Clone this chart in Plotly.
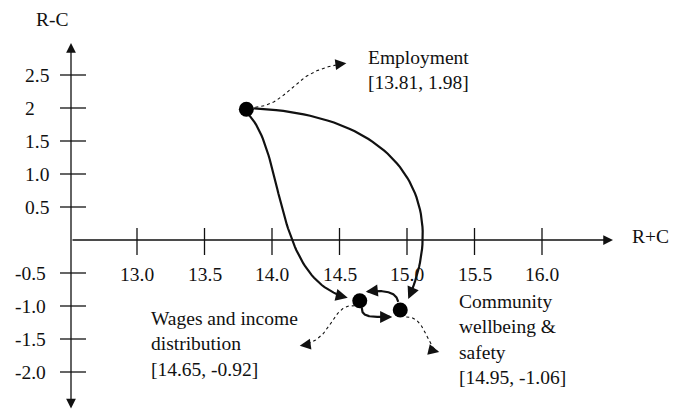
import numpy as np
import plotly.graph_objects as go

W, H = 674, 413
FONT = "Times New Roman, Liberation Serif, serif"
INK = "#111111"

# Factor positions in the cause/effect plane: (R+C, R-C)
factors = ["Employment", "Wages and income distribution", "Community wellbeing & safety"]
label_text = [
    "Employment<br>[13.81, 1.98]",
    "Wages and income<br>distribution<br>[14.65, -0.92]",
    "Community<br>wellbeing &amp;<br>safety<br>[14.95, -1.06]",
]
r_plus_c = [13.81, 14.65, 14.95]
r_minus_c = [1.98, -0.92, -1.06]

x_ticks = [13.0, 13.5, 14.0, 14.5, 15.0, 15.5, 16.0]
x_tick_labels = ["13.0", "13.5", "14.0", "14.5", "15.0", "15.5", "16.0"]
y_ticks = [2.5, 2.0, 1.5, 1.0, 0.5, -0.5, -1.0, -1.5, -2.0]
y_tick_labels = ["2.5", "2", "1.5", "1.0", "0.5", "-0.5", "-1.0", "-1.5", "-2.0"]

# Axis ranges (full-bleed plot area)
X_RANGE = [13.0 - 137 / 135, 13.0 + (W - 137) / 135]
Y_RANGE = [-(H - 240) / 66, 240 / 66]

# where the hand-drawn axes sit
V_AXIS_AT = X_RANGE[0] + 71 / 135
V_AXIS_SPAN = [Y_RANGE[1] - 410 / 66, Y_RANGE[1] - 43 / 66]
H_AXIS_END = X_RANGE[0] + 613 / 135


def to_px(x, y):
    px = (x - X_RANGE[0]) / (X_RANGE[1] - X_RANGE[0]) * W
    py = (Y_RANGE[1] - y) / (Y_RANGE[1] - Y_RANGE[0]) * H
    return np.array([px, py], dtype=float)


def to_data(p):
    x = X_RANGE[0] + p[0] / W * (X_RANGE[1] - X_RANGE[0])
    y = Y_RANGE[1] - p[1] / H * (Y_RANGE[1] - Y_RANGE[0])
    return x, y


nodes_px = [to_px(x, y) for x, y in zip(r_plus_c, r_minus_c)]

# Links: source, target, start offset, ctrl1 (rel. start), ctrl2 (rel. end), end offset
influence_links = [
    (0, 1, (3, 6), (36, 40), (-75, -18), (-12, -3)),
    (0, 2, (7, -1), (155, 7), (40, -90), (8, -11)),
    (1, 2, (2, 7), (0, 10), (-22, 0), (-8, 7)),
    (2, 1, (-2, -8), (-2, -10), (20, -2), (6, -9)),
]
# Dashed pointers from each node to its caption: node, start, ctrl1, ctrl2, end
caption_links = [
    (0, (9, -2), (38, -4), (-58, 7), (100, -46)),
    (1, (-5, 5), (-25, -2), (35, -5), (-60, 45)),
    (2, (6, 7), (20, -1), (-13, -3), (39, 42)),
]
# Caption placement relative to each node (pixels)
caption_shift = [(120, 39), (-211, -43), (57, -30)]


def bezier(p0, p1, p2, p3, n=60):
    t = np.linspace(0, 1, n)[:, None]
    return ((1 - t) ** 3) * p0 + 3 * ((1 - t) ** 2) * t * p1 + 3 * (1 - t) * t ** 2 * p2 + t ** 3 * p3


fig = go.Figure()
annotations = []
shapes = []


def add_curve(p0, p1, p2, p3, width, dash, head_len, head_size):
    pts = bezier(p0, p1, p2, p3)
    xs, ys = zip(*[to_data(p) for p in pts[:-2]])
    fig.add_trace(go.Scatter(x=list(xs), y=list(ys), mode="lines",
                             line=dict(color=INK, width=width, dash=dash),
                             hoverinfo="skip", showlegend=False))
    d = p3 - p2
    d = d / np.linalg.norm(d)
    tip = to_data(p3)
    annotations.append(dict(x=tip[0], y=tip[1], ax=-d[0] * head_len, ay=-d[1] * head_len,
                            axref="pixel", ayref="pixel", text="", showarrow=True,
                            arrowhead=2, arrowsize=head_size, arrowwidth=width,
                            arrowcolor=INK, standoff=0))


for s, t, so, c1, c2, eo in influence_links:
    p0 = nodes_px[s] + np.array(so)
    p3 = nodes_px[t] + np.array(eo)
    add_curve(p0, p0 + np.array(c1), p3 + np.array(c2), p3, 2.2, "solid", 9, 1.1)

for n, so, c1, c2, eo in caption_links:
    p0 = nodes_px[n] + np.array(so)
    p3 = nodes_px[n] + np.array(eo)
    add_curve(p0, p0 + np.array(c1), p3 + np.array(c2), p3, 1.1, "dot", 6, 2.0)

# factor nodes
fig.add_trace(go.Scatter(x=r_plus_c, y=r_minus_c, mode="markers",
                         marker=dict(color="black", size=15, line=dict(width=0)),
                         text=factors, hoverinfo="text", showlegend=False))

# captions
for i, txt in enumerate(label_text):
    dx, dy = caption_shift[i]
    annotations.append(dict(x=r_plus_c[i], y=r_minus_c[i], text=txt, showarrow=False,
                            xanchor="left", yanchor="middle", align="left",
                            xshift=dx, yshift=dy,
                            font=dict(family=FONT, size=19.5, color=INK)))

# axes: horizontal R+C axis, vertical R-C axis (double-headed)
annotations.append(dict(x=H_AXIS_END, y=0, ax=V_AXIS_AT, ay=0, axref="x", ayref="y",
                        text="", showarrow=True, arrowhead=2, arrowsize=1.5,
                        arrowwidth=1.3, arrowcolor=INK, standoff=0))
annotations.append(dict(x=V_AXIS_AT, y=V_AXIS_SPAN[1], ax=V_AXIS_AT, ay=V_AXIS_SPAN[0],
                        axref="x", ayref="y", text="", showarrow=True, arrowhead=2,
                        arrowside="end+start", arrowsize=1.5, arrowwidth=1.3,
                        arrowcolor=INK, standoff=0))

# tick marks
for xv in x_ticks:
    shapes.append(dict(type="line", xref="x", yref="y", x0=xv, x1=xv,
                       y0=-15 / 66, y1=12 / 66, line=dict(color=INK, width=1.3)))
for yv in y_ticks:
    shapes.append(dict(type="line", xref="x", yref="y", x0=V_AXIS_AT - 11 / 135,
                       x1=V_AXIS_AT + 15 / 135, y0=yv, y1=yv,
                       line=dict(color=INK, width=1.3)))

# tick labels
for xv, lab in zip(x_ticks, x_tick_labels):
    annotations.append(dict(x=xv, y=0, text=lab, showarrow=False, yshift=-34,
                            xanchor="center", yanchor="middle",
                            font=dict(family=FONT, size=19.5, color=INK)))
for yv, lab in zip(y_ticks, y_tick_labels):
    left = X_RANGE[0] + (13 if yv < 0 else 23) / 135
    annotations.append(dict(x=left, y=yv, text=lab, showarrow=False,
                            xanchor="left", yanchor="middle",
                            font=dict(family=FONT, size=19.5, color=INK)))

# axis titles
annotations.append(dict(x=52 / W, y=1 - 20 / H, xref="paper", yref="paper", text="R-C",
                        showarrow=False, xanchor="center", yanchor="middle",
                        font=dict(family=FONT, size=19.5, color=INK)))
annotations.append(dict(x=650 / W, y=1 - 236 / H, xref="paper", yref="paper", text="R+C",
                        showarrow=False, xanchor="center", yanchor="middle",
                        font=dict(family=FONT, size=19.5, color=INK)))

fig.update_layout(
    width=W, height=H, autosize=False,
    margin=dict(l=0, r=0, t=0, b=0),
    paper_bgcolor="white", plot_bgcolor="white",
    font=dict(family=FONT),
    xaxis=dict(range=X_RANGE, visible=False, fixedrange=True),
    yaxis=dict(range=Y_RANGE, visible=False, fixedrange=True),
    annotations=annotations, shapes=shapes, showlegend=False,
)

fig.write_html("out.html")
